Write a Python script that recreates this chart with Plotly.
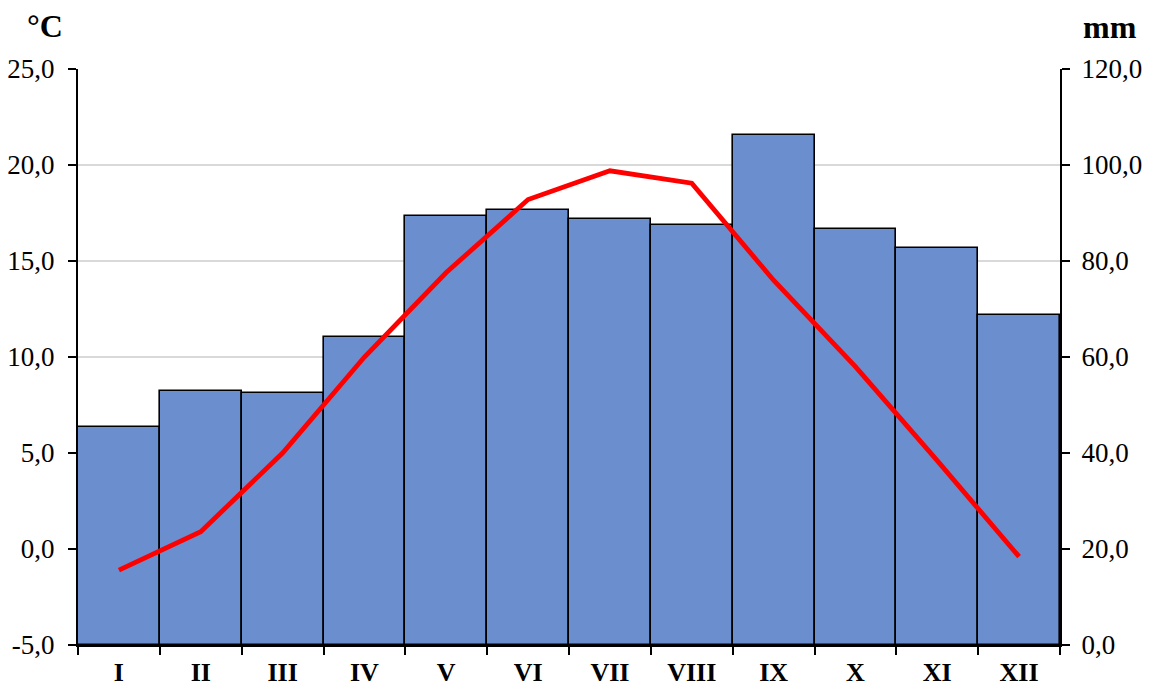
import plotly.graph_objects as go

months = ["I", "II", "III", "IV", "V", "VI", "VII", "VIII", "IX", "X", "XI", "XII"]
precip_mm = [45.4, 52.9, 52.5, 64.2, 89.4, 90.6, 88.7, 87.5, 106.2, 86.7, 82.8, 68.8]
temp_c = [-1.1, 0.9, 5.0, 10.0, 14.4, 18.2, 19.7, 19.05, 14.0, 9.5, 4.6, -0.4]

temp_ticks = [-5, 0, 5, 10, 15, 20, 25]
temp_ticktext = ["-5,0", "0,0", "5,0", "10,0", "15,0", "20,0", "25,0"]
mm_ticks = [0, 20, 40, 60, 80, 100, 120]
mm_ticktext = ["0,0", "20,0", "40,0", "60,0", "80,0", "100,0", "120,0"]

FONT = "Liberation Serif, Times New Roman, serif"

fig = go.Figure()
fig.add_trace(go.Bar(
    x=months, y=precip_mm, yaxis="y",
    marker=dict(color="#6B8ECF", line=dict(color="black", width=1.6)),
    name="mm",
))
fig.add_trace(go.Scatter(
    x=months, y=temp_c, yaxis="y2", mode="lines",
    line=dict(color="#FF0000", width=4.8),
    name="°C",
))

fig.update_layout(
    width=1149, height=688,
    margin=dict(l=78, r=89, t=69, b=43),
    paper_bgcolor="white", plot_bgcolor="white",
    showlegend=False,
    bargap=0,
    font=dict(family=FONT, size=27, color="black"),
    xaxis=dict(
        type="category", tickson="boundaries", ticks="outside", ticklen=8,
        tickwidth=1.5, tickcolor="black", automargin=False,
        showline=True, linecolor="black", linewidth=2,
        ticklabelstandoff=3,
        tickfont=dict(family=FONT, size=26, color="black", weight="bold"),
        showgrid=False,
    ),
    yaxis=dict(
        side="right", range=[0, 120], tickvals=mm_ticks, ticktext=mm_ticktext,
        ticks="outside", ticklen=8, tickwidth=1.5, tickcolor="black",
        showline=True, linecolor="black", linewidth=2, automargin=False,
        showgrid=True, gridcolor="#D9D9D9", gridwidth=1.5,
        zeroline=False, ticklabelstandoff=6,
        tickfont=dict(family=FONT, size=27, color="black"),
    ),
    yaxis2=dict(
        side="left", overlaying="y", range=[-5, 25], tickvals=temp_ticks, ticktext=temp_ticktext,
        ticks="outside", ticklen=8, tickwidth=1.5, tickcolor="black",
        showline=True, linecolor="black", linewidth=2, automargin=False,
        showgrid=False, zeroline=False, ticklabelstandoff=8,
        tickfont=dict(family=FONT, size=27, color="black"),
    ),
    annotations=[
        dict(text="<b>°C</b>", xref="paper", yref="paper", x=-0.034, y=1.075,
             showarrow=False, font=dict(family=FONT, size=32, color="black"),
             xanchor="center", yanchor="middle"),
        dict(text="<b>mm</b>", xref="paper", yref="paper", x=1.051, y=1.073,
             showarrow=False, font=dict(family=FONT, size=32, color="black"),
             xanchor="center", yanchor="middle"),
    ],
)

fig.write_html(
    "out.html",
    config={"displayModeBar": False},
    post_script="document.body.style.margin='0';document.body.style.padding='0';document.body.style.overflow='hidden';",
)
